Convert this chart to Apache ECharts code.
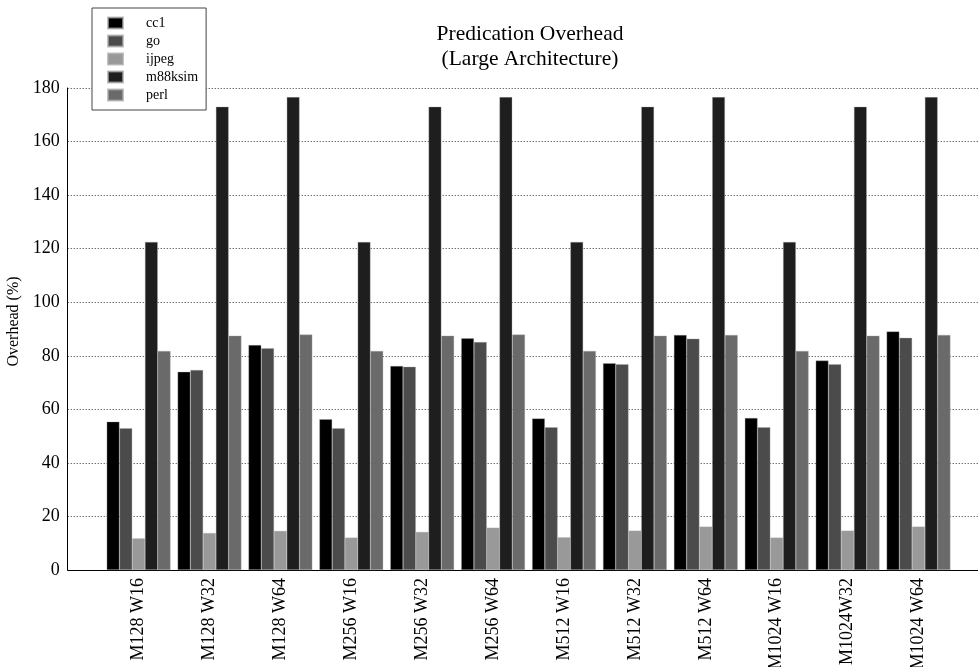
<!DOCTYPE html>
<html>
<head>
<meta charset="utf-8">
<title>Predication Overhead</title>
<script src="https://cdn.jsdelivr.net/npm/echarts@6/dist/echarts.min.js"></script>
<style>
  html, body { margin: 0; padding: 0; background: #fff; }
  #chart { width: 978px; height: 667px; }
</style>
</head>
<body>
<div id="chart"></div>
<script>
// Machine configurations (memory size / issue width)
const categories = ['M128 W16', 'M128 W32', 'M128 W64', 'M256 W16', 'M256 W32', 'M256 W64',
                    'M512 W16', 'M512 W32', 'M512 W64', 'M1024 W16', 'M1024W32', 'M1024 W64'];

// Overhead (%) per benchmark
const cc1     = [55.4, 74.0, 84.0, 56.3, 76.2, 86.5, 56.6, 77.2, 87.8, 56.8, 78.2, 89.1];
const go      = [52.9, 74.7, 82.8, 52.9, 75.9, 85.1, 53.3, 76.8, 86.4, 53.3, 76.8, 86.7];
const ijpeg   = [11.8, 13.8, 14.6, 12.1, 14.2, 15.8, 12.2, 14.7, 16.2, 12.1, 14.7, 16.2];
const m88ksim = [122.5, 173.0, 176.6, 122.5, 173.0, 176.6, 122.5, 173.0, 176.6, 122.5, 173.0, 176.6];
const perl    = [81.8, 87.5, 87.9, 81.8, 87.5, 87.9, 81.8, 87.5, 87.8, 81.8, 87.5, 87.8];

const yTicks = [0, 20, 40, 60, 80, 100, 120, 140, 160, 180];

const benchmarks = [
  { name: 'cc1',     values: cc1,     color: '#000000' },
  { name: 'go',      values: go,      color: '#4b4b4b' },
  { name: 'ijpeg',   values: ijpeg,   color: '#999999' },
  { name: 'm88ksim', values: m88ksim, color: '#1e1e1e' },
  { name: 'perl',    values: perl,    color: '#6a6a6a' }
];

const FONT = "'Liberation Serif', 'Times New Roman', serif";

// configurations sit at x = 1..12 on a 0..13 numeric axis
const series = benchmarks.map(b => ({
  name: b.name,
  type: 'bar',
  barWidth: 12.76,
  barGap: '0%',
  itemStyle: { color: b.color, borderColor: 'rgba(170,170,170,0.7)', borderWidth: 0.5 },
  data: b.values.map((v, i) => [i + 1, v])
}));

const chart = echarts.init(document.getElementById('chart'), null, { renderer: 'canvas' });
chart.setOption({
  animation: false,
  backgroundColor: '#ffffff',
  textStyle: { fontFamily: FONT },
  title: {
    text: 'Predication Overhead\n(Large Architecture)',
    left: 525,
    top: 17,
    textAlign: 'center',
    textStyle: { fontFamily: FONT, fontSize: 21.5, fontWeight: 'normal', color: '#000', lineHeight: 25 }
  },
  legend: {
    orient: 'vertical',
    left: 92,
    top: 8,
    padding: [7, 8, 7, 15],
    itemWidth: 15,
    itemHeight: 11,
    itemGap: 2,
    icon: 'rect',
    backgroundColor: '#ffffff',
    borderColor: '#444',
    borderWidth: 1,
    textStyle: { fontFamily: FONT, fontSize: 14, color: '#000', padding: [0, 0, 0, 18], lineHeight: 16 },
    data: benchmarks.map(b => b.name)
  },
  grid: { left: 67.7, right: -11.4, top: 88, bottom: 97, containLabel: false, outerBoundsMode: 'none' },
  xAxis: {
    type: 'value',
    min: 0,
    max: 13,
    interval: 1,
    splitLine: { show: false },
    axisTick: { show: false },
    axisLine: { show: true, onZero: false, lineStyle: { color: '#000', width: 1 } },
    axisLabel: {
      rotate: 90,
      margin: 8,
      fontFamily: FONT,
      fontSize: 18,
      color: '#000',
      showMinLabel: false,
      showMaxLabel: false,
      formatter: v => categories[v - 1] || ''
    }
  },
  yAxis: {
    type: 'value',
    min: yTicks[0],
    max: yTicks[yTicks.length - 1],
    interval: 20,
    name: 'Overhead (%)',
    nameLocation: 'middle',
    nameGap: 46,
    nameTextStyle: { fontFamily: FONT, fontSize: 16, color: '#000', padding: [0, 0, 0, 15] },
    axisLine: { show: true, lineStyle: { color: '#000', width: 1 } },
    axisTick: { show: false },
    axisLabel: { margin: 8, fontFamily: FONT, fontSize: 18, color: '#000' },
    splitLine: { show: true, lineStyle: { color: '#333', width: 1, type: [1, 2] } }
  },
  series: series
});
</script>
</body>
</html>
